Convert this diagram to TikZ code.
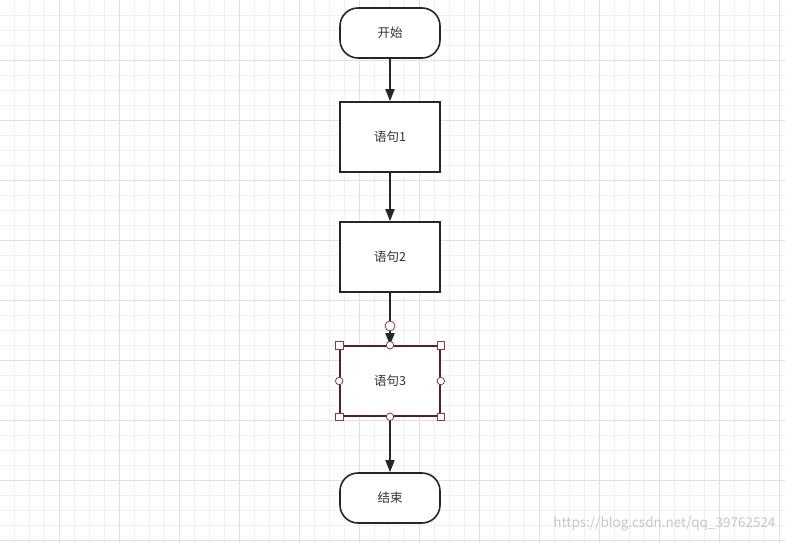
\documentclass[tikz,border=0pt]{standalone}
\usepackage{fontspec}
\setmainfont{Noto Sans CJK SC}
\usetikzlibrary{arrows.meta}
\definecolor{gminor}{HTML}{F0F0F0}
\definecolor{gmajor}{HTML}{E0E0E0}
\definecolor{sel}{HTML}{8B3A3A}
\tikzset{
  box/.style={draw=black!85, line width=1.6pt, minimum width=100pt, minimum height=70pt, fill=white, font=\fontsize{12.5pt}{14pt}\selectfont, text=black!80},
  term/.style={box, minimum height=50pt, rounded corners=18pt},
  conn/.style={draw=black!85, line width=1.6pt, -{Triangle[length=12pt,width=9pt]}},
  hsq/.style={draw=sel, fill=white, line width=0.8pt, minimum size=7.5pt, inner sep=0pt},
  hci/.style={draw=sel, fill=white, line width=0.8pt, circle, minimum size=7.5pt, inner sep=0pt},
}
\begin{document}
\begin{tikzpicture}[x=1pt,y=-1pt]
\useasboundingbox (0,0) rectangle (785,543);
\fill[white] (0,0) rectangle (785,543);
\foreach \x in {14,29,...,785} \draw[gminor,line width=0.8pt] (\x,0) -- (\x,543);
\foreach \y in {15,30,...,543} \draw[gminor,line width=0.8pt] (0,\y) -- (785,\y);
\foreach \x in {59,119,...,785} \draw[gmajor,line width=0.8pt] (\x,0) -- (\x,543);
\foreach \y in {60,120,...,543} \draw[gmajor,line width=0.8pt] (0,\y) -- (785,\y);
\node[term] (s) at (390,33) {开始};
\node[box] (a) at (390,137) {语句1};
\node[box] (b) at (390,257) {语句2};
\node[box, draw=sel!60!black] (c) at (390,381) {语句3};
\node[term] (e) at (390,498) {结束};
\draw[conn] (s) -- (a);
\draw[conn] (a) -- (b);
\draw[conn] (b) -- (c);
\draw[conn] (c) -- (e);
\foreach \p in {north west,north east,south west,south east} \node[hsq] at (c.\p) {};
\foreach \p in {north,south,west,east} \node[hci] at (c.\p) {};
\node[hci, minimum size=10pt] (h) at (390,326) {};
\node[text=black!22, font=\fontsize{13.5pt}{15pt}\selectfont, anchor=east] (w) at (779,524) {https://blog.csdn.net/qq\_39762524};
\end{tikzpicture}
\end{document}
